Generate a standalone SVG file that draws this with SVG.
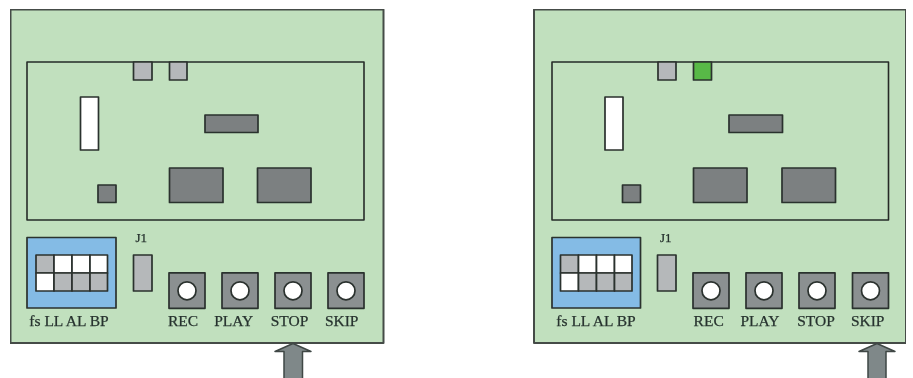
<svg xmlns="http://www.w3.org/2000/svg" width="913" height="378" viewBox="0 0 913 378">
<style>
rect,circle,polygon{stroke:#2b312e;stroke-width:1.7;stroke-linejoin:round}
.panel{fill:#c1e0be;stroke:#454c47;stroke-width:2}
.board{fill:#c1e0be;stroke:#262c28;stroke-width:1.6}
.lt{fill:#b5b8ba}.dk{fill:#7b8081}.wh{fill:#fff}.gn{fill:#58b947}.bl{fill:#84bbe5}.bt{fill:#8b9091}
.arrow{fill:#7f8889;stroke:#3f4745;stroke-width:1.5}
text{font-family:"Liberation Serif","Times New Roman",serif;font-size:15.5px;fill:#26322e;text-anchor:middle;stroke:#26322e;stroke-width:.25}
.j{font-size:13px}
</style>
<defs>
<filter id="soft" x="0" y="0" width="100%" height="100%"><feGaussianBlur stdDeviation="0.4"/></filter>
<g id="btn"><rect class="bt" x="0" y="0" width="36" height="35.5"/><circle class="wh" cx="18" cy="18" r="9"/></g>
<g id="dip">
<rect class="lt" x="36" y="255" width="18" height="18"/><rect class="wh" x="54" y="255" width="18" height="18"/><rect class="wh" x="72" y="255" width="18" height="18"/><rect class="wh" x="90" y="255" width="17.5" height="18"/>
<rect class="wh" x="36" y="273" width="18" height="18"/><rect class="lt" x="54" y="273" width="18" height="18"/><rect class="lt" x="72" y="273" width="18" height="18"/><rect class="lt" x="90" y="273" width="17.5" height="18"/>
</g>
</defs>
<g filter="url(#soft)">
<g id="unit-left">
<rect id="panel-left" class="panel" x="10.5" y="9.5" width="373" height="333.5"/>
<rect id="board-left" class="board" x="27" y="62" width="337" height="158"/>
<g id="conn-a-left"><rect class="lt" x="133.5" y="62" width="18.5" height="18"/></g>
<g id="conn-b-left"><rect class="lt" x="169.5" y="62" width="17.5" height="18"/></g>
<g id="slot-left"><rect class="wh" x="80.5" y="97" width="18" height="53"/></g>
<g id="chip-wide-left"><rect class="dk" x="205" y="115" width="53" height="17.5"/></g>
<g id="chip-1-left"><rect class="dk" x="169.5" y="168" width="53.5" height="34.5"/></g>
<g id="chip-2-left"><rect class="dk" x="257.5" y="168" width="53.5" height="34.5"/></g>
<g id="chip-small-left"><rect class="dk" x="98" y="185" width="18" height="17.5"/></g>
<g id="dip-left"><rect class="bl" x="27" y="237.5" width="89" height="70.5"/><use href="#dip"/><text x="69" y="325.5">fs LL AL BP</text></g>
<g id="j1-left"><text class="j" x="141.3" y="241.5">J1</text><rect class="lt" x="133.5" y="255" width="18.5" height="36"/></g>
<g id="rec-left"><use href="#btn" x="169" y="272.8"/><text x="183" y="325.5">REC</text></g>
<g id="play-left"><use href="#btn" x="222" y="272.8"/><text x="233.7" y="325.5">PLAY</text></g>
<g id="stop-left"><use href="#btn" x="275" y="272.8"/><text x="289.5" y="325.5">STOP</text></g>
<g id="skip-left"><use href="#btn" x="328" y="272.8"/><text x="341.7" y="325.5">SKIP</text></g>
</g>
<g id="unit-right">
<rect id="panel-right" class="panel" x="534" y="9.5" width="372" height="333.5"/>
<rect id="board-right" class="board" x="552" y="62" width="336.5" height="158"/>
<g id="conn-a-right"><rect class="lt" x="658" y="62" width="18" height="18"/></g>
<g id="conn-b-right"><rect class="gn" x="693.5" y="62" width="18" height="18"/></g>
<g id="slot-right"><rect class="wh" x="605" y="97" width="18" height="53"/></g>
<g id="chip-wide-right"><rect class="dk" x="729" y="115" width="53.5" height="17.5"/></g>
<g id="chip-1-right"><rect class="dk" x="693.5" y="168" width="53.5" height="34.5"/></g>
<g id="chip-2-right"><rect class="dk" x="782" y="168" width="53.5" height="34.5"/></g>
<g id="chip-small-right"><rect class="dk" x="622.5" y="185" width="18" height="17.5"/></g>
<g id="dip-right"><rect class="bl" x="552" y="237.5" width="88.5" height="70.5"/><use href="#dip" x="524.5"/><text x="596" y="325.5">fs LL AL BP</text></g>
<g id="j1-right"><text class="j" x="665.7" y="241.5">J1</text><rect class="lt" x="657.5" y="255" width="18.5" height="36"/></g>
<g id="rec-right"><use href="#btn" x="693" y="272.8"/><text x="708.7" y="325.5">REC</text></g>
<g id="play-right"><use href="#btn" x="746" y="272.8"/><text x="760" y="325.5">PLAY</text></g>
<g id="stop-right"><use href="#btn" x="799" y="272.8"/><text x="816" y="325.5">STOP</text></g>
<g id="skip-right"><use href="#btn" x="852.5" y="272.8"/><text x="867.7" y="325.5">SKIP</text></g>
</g>
<g id="connectors">
<polygon class="arrow" points="293,343.5 311,351.5 302.5,351.5 302.5,379 284,379 284,351.5 275,351.5"/>
<polygon class="arrow" points="877,343.5 895,351.5 886,351.5 886,379 868,379 868,351.5 859,351.5"/>
</g>
</g>
</svg>
